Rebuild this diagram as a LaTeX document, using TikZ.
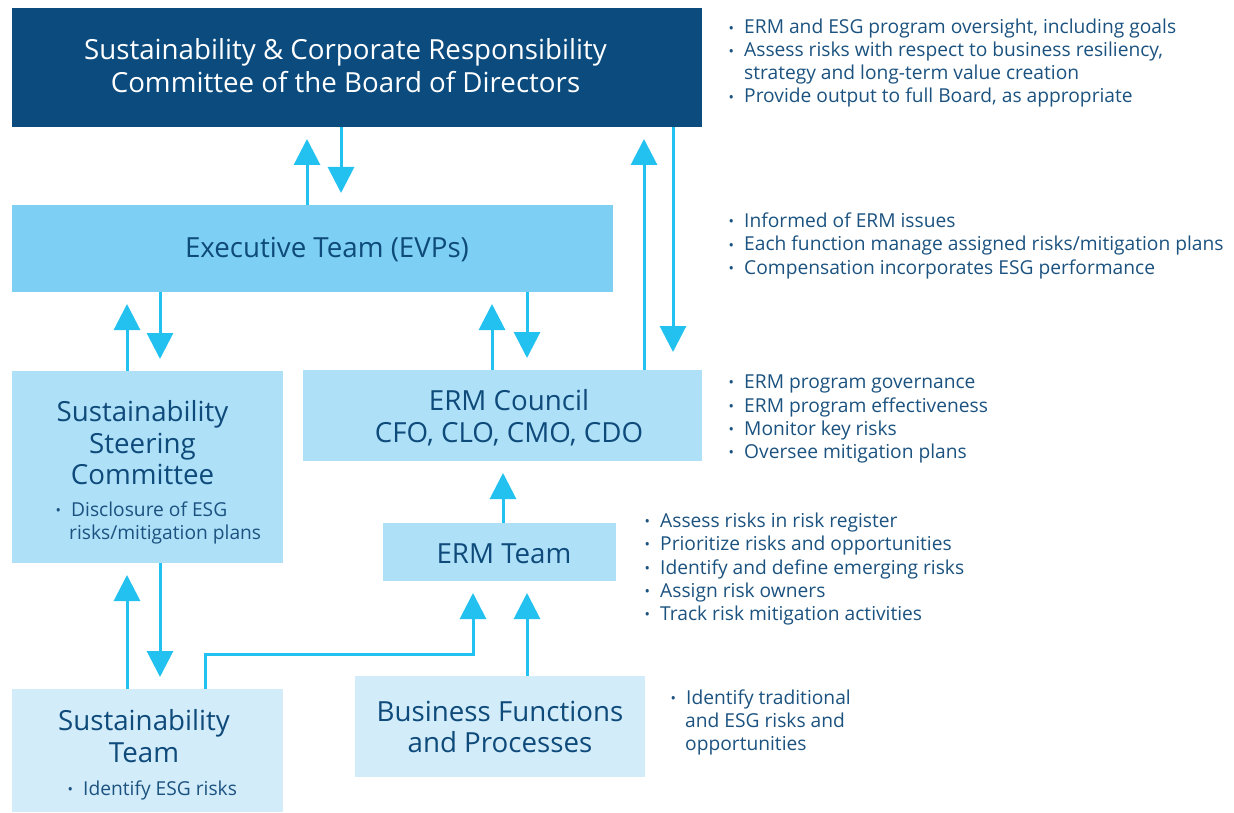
\documentclass[tikz,border=0pt]{standalone}
\usepackage{fontspec}
\setmainfont{Open Sans}
\usetikzlibrary{arrows.meta}
\definecolor{navy}{HTML}{0B4B7E}
\definecolor{execc}{HTML}{7DD0F4}
\definecolor{midb}{HTML}{AEE0F8}
\definecolor{lightb}{HTML}{D2ECFA}
\definecolor{arrowc}{HTML}{22C1F0}
\definecolor{txt}{HTML}{0E4A7A}
\definecolor{sidec}{HTML}{1B527F}
\newcommand\bul{\makebox[15.5pt][l]{\raisebox{0.5pt}{\scalebox{0.75}{•}}}}
\begin{document}
\begin{tikzpicture}[x=1pt,y=-1pt,
  box/.style={rectangle, inner sep=0pt, outer sep=0pt, draw=none},
  title/.style={font=\fontsize{27.7}{32}\selectfont, text=txt, inner sep=0pt, anchor=base},
  sidet/.style={font=\fontsize{19.2}{23}\selectfont, text=sidec, inner sep=0pt, anchor=base west},
  arr/.style={draw=arrowc, line width=3pt, -{Triangle[width=26pt,length=26pt]}, shorten >=12pt}]
\useasboundingbox (0,0) rectangle (1234,813);
% boxes
\node[box, fill=navy, minimum width=690pt, minimum height=119pt] (board) at (357,67.5) {};
\node[box, fill=execc, minimum width=601pt, minimum height=87pt] (exec) at (312.5,248.5) {};
\node[box, fill=midb, minimum width=271pt, minimum height=192pt] (steer) at (147.5,467) {};
\node[box, fill=midb, minimum width=399pt, minimum height=91pt] (council) at (502.5,415.5) {};
\node[box, fill=midb, minimum width=233pt, minimum height=58pt] (ermteam) at (499.5,552) {};
\node[box, fill=lightb, minimum width=271pt, minimum height=123pt] (susteam) at (147.5,750.5) {};
\node[box, fill=lightb, minimum width=290pt, minimum height=101pt] (business) at (500,726.5) {};
% titles
\node[title, text=white] (boardT1) at (345.5,60) {Sustainability \& Corporate Responsibility};
\node[title, text=white] (boardT2) at (345.5,93) {Committee of the Board of Directors};
\node[title] (execT) at (327,258) {Executive Team (EVPs)};
\node[title] (steerT1) at (142.5,421) {Sustainability};
\node[title] (steerT2) at (142.5,453) {Steering};
\node[title] (steerT3) at (142.5,484) {Committee};
\node[sidet] (steerB1) at (55.5,516) {\bul Disclosure of ESG};
\node[sidet] (steerB2) at (69,539) {risks/mitigation plans};
\node[title] (councilT1) at (509,410) {ERM Council};
\node[title] (councilT2) at (509,442) {CFO, CLO, CMO, CDO};
\node[title] (ermT) at (504,563) {ERM Team};
\node[title] (susT1) at (144,730) {Sustainability};
\node[title] (susT2) at (144,762) {Team};
\node[sidet] (susB1) at (67.5,795) {\bul Identify ESG risks};
\node[title] (busT1) at (500,721) {Business Functions};
\node[title] (busT2) at (500,752) {and Processes};
% side notes
\node[sidet] (n1) at (728.5,34) {\bul ERM and ESG program oversight, including goals};
\node[sidet] (n2) at (728.5,57) {\bul Assess risks with respect to business resiliency,};
\node[sidet] (n3) at (744,80) {strategy and long-term value creation};
\node[sidet] (n4) at (728.5,103) {\bul Provide output to full Board, as appropriate};
\node[sidet] (e1) at (728.5,227) {\bul Informed of ERM issues};
\node[sidet] (e2) at (728.5,251) {\bul Each function manage assigned risks/mitigation plans};
\node[sidet] (e3) at (728.5,274) {\bul Compensation incorporates ESG performance};
\node[sidet] (c1) at (728.5,388) {\bul ERM program governance};
\node[sidet] (c2) at (728.5,412) {\bul ERM program effectiveness};
\node[sidet] (c3) at (728.5,435) {\bul Monitor key risks};
\node[sidet] (c4) at (728.5,458) {\bul Oversee mitigation plans};
\node[sidet] (t1) at (644.5,527) {\bul Assess risks in risk register};
\node[sidet] (t2) at (644.5,550) {\bul Prioritize risks and opportunities};
\node[sidet] (t3) at (644.5,574) {\bul Identify and define emerging risks};
\node[sidet] (t4) at (644.5,597) {\bul Assign risk owners};
\node[sidet] (t5) at (644.5,620) {\bul Track risk mitigation activities};
\node[sidet] (b1) at (670.5,704) {\bul Identify traditional};
\node[sidet] (b2) at (685,727) {and ESG risks and};
\node[sidet] (b3) at (685,750) {opportunities};
% connector x positions
\coordinate (c307) at (307,0);
\coordinate (c341) at (341,0);
\coordinate (c644) at (644,0);
\coordinate (c673) at (673,0);
\coordinate (c127) at (127,0);
\coordinate (c160) at (160,0);
\coordinate (c492) at (492,0);
\coordinate (c527) at (527,0);
\coordinate (c503) at (503,0);
\coordinate (j1) at (205,654);
\coordinate (j2) at (473,654);
% connectors
\draw[arr] (c307 |- exec.north) -- (c307 |- board.south);
\draw[arr] (c341 |- board.south) -- (c341 |- exec.north);
\draw[arr] (c644 |- council.north) -- (c644 |- board.south);
\draw[arr, shorten >=18pt] (c673 |- board.south) -- (c673 |- council.north);
\draw[arr] (c127 |- steer.north) -- (c127 |- exec.south);
\draw[arr] (c160 |- exec.south) -- (c160 |- steer.north);
\draw[arr] (c492 |- council.north) -- (c492 |- exec.south);
\draw[arr] (c527 |- exec.south) -- (c527 |- council.north);
\draw[arr] (c503 |- ermteam.north) -- (c503 |- council.south);
\draw[arr] (c127 |- susteam.north) -- (c127 |- steer.south);
\draw[arr] (c160 |- steer.south) -- (c160 |- susteam.north);
\draw[arr] (j1 |- susteam.north) -- (j1) -- (j2) -- (j2 |- ermteam.south);
\draw[arr] (c527 |- business.north) -- (c527 |- ermteam.south);
\end{tikzpicture}
\end{document}
